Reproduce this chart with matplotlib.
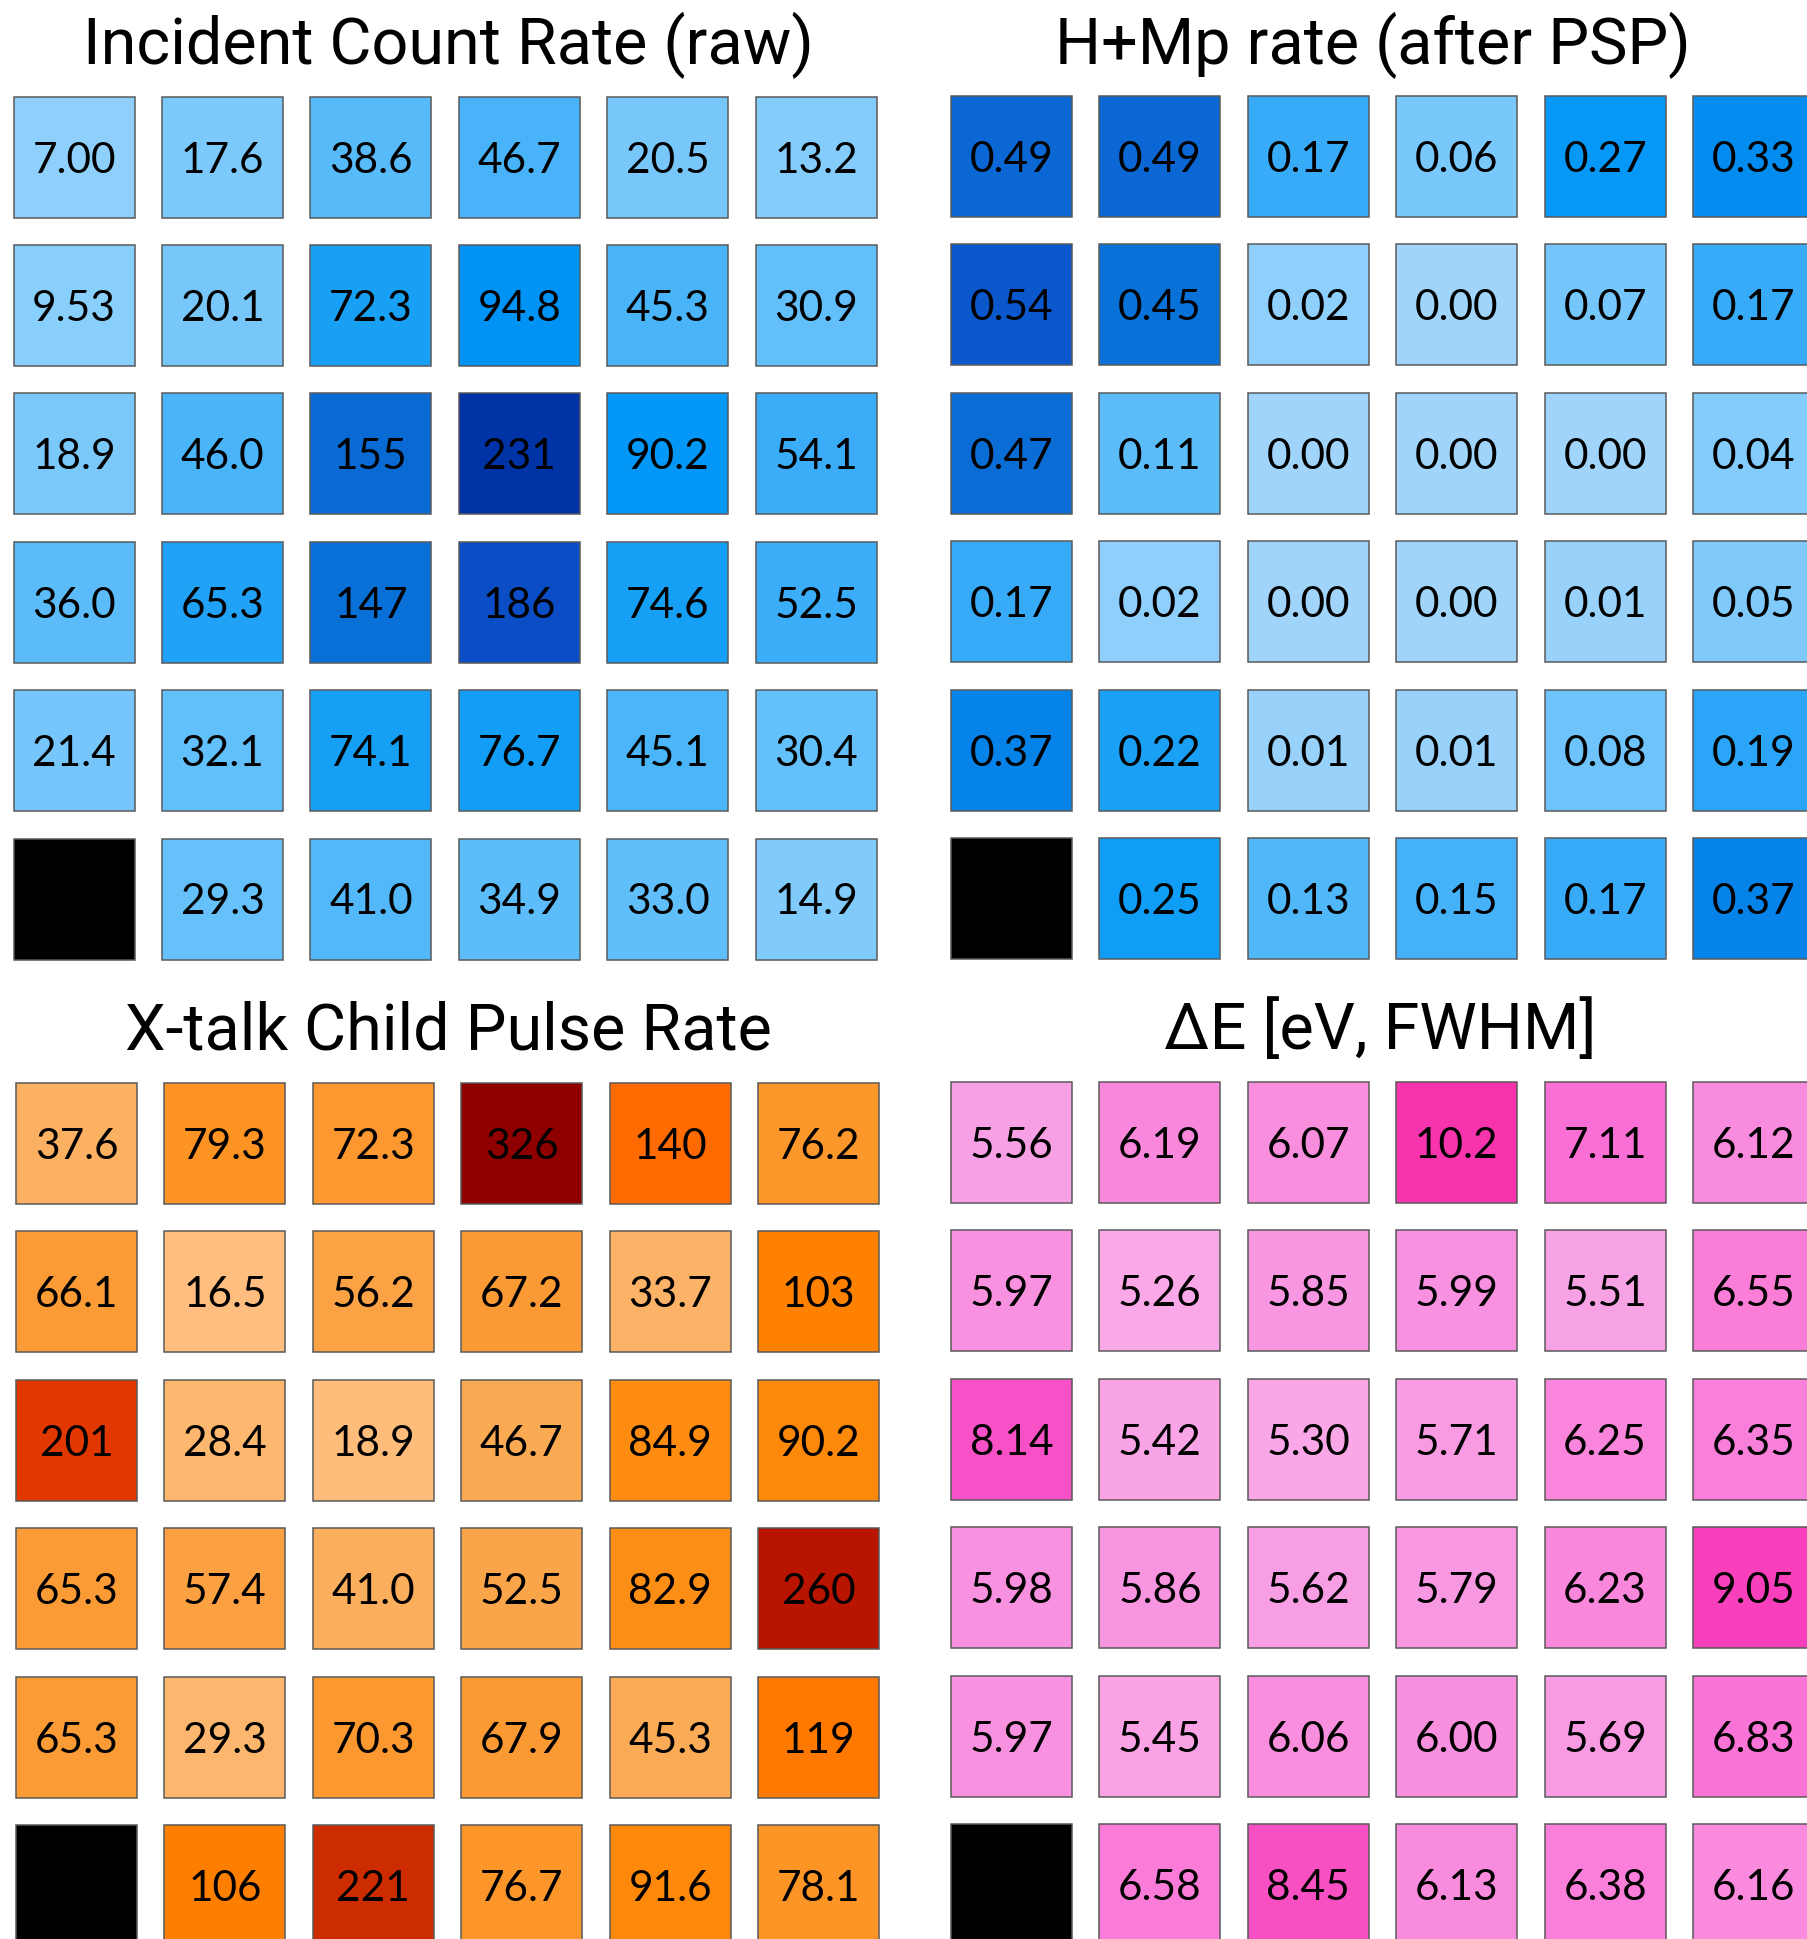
import numpy as np
import matplotlib
matplotlib.use("Agg")
import matplotlib.pyplot as plt
from matplotlib.colors import LinearSegmentedColormap, Normalize
from matplotlib.patches import Rectangle

nan = np.nan

# ---- pixel data (6 x 6 detector array), NaN = dead pixel ----
incident_rate = [
    [7.00, 17.6, 38.6, 46.7, 20.5, 13.2],
    [9.53, 20.1, 72.3, 94.8, 45.3, 30.9],
    [18.9, 46.0, 155, 231, 90.2, 54.1],
    [36.0, 65.3, 147, 186, 74.6, 52.5],
    [21.4, 32.1, 74.1, 76.7, 45.1, 30.4],
    [nan, 29.3, 41.0, 34.9, 33.0, 14.9],
]
hmp_rate = [
    [0.49, 0.49, 0.17, 0.06, 0.27, 0.33],
    [0.54, 0.45, 0.02, 0.00, 0.07, 0.17],
    [0.47, 0.11, 0.00, 0.00, 0.00, 0.04],
    [0.17, 0.02, 0.00, 0.00, 0.01, 0.05],
    [0.37, 0.22, 0.01, 0.01, 0.08, 0.19],
    [nan, 0.25, 0.13, 0.15, 0.17, 0.37],
]
xtalk_rate = [
    [37.6, 79.3, 72.3, 326, 140, 76.2],
    [66.1, 16.5, 56.2, 67.2, 33.7, 103],
    [201, 28.4, 18.9, 46.7, 84.9, 90.2],
    [65.3, 57.4, 41.0, 52.5, 82.9, 260],
    [65.3, 29.3, 70.3, 67.9, 45.3, 119],
    [nan, 106, 221, 76.7, 91.6, 78.1],
]
delta_e = [
    [5.56, 6.19, 6.07, 10.2, 7.11, 6.12],
    [5.97, 5.26, 5.85, 5.99, 5.51, 6.55],
    [8.14, 5.42, 5.30, 5.71, 6.25, 6.35],
    [5.98, 5.86, 5.62, 5.79, 6.23, 9.05],
    [5.97, 5.45, 6.06, 6.00, 5.69, 6.83],
    [nan, 6.58, 8.45, 6.13, 6.38, 6.16],
]

titles = ["Incident Count Rate (raw)", "H+Mp rate (after PSP)",
          "X-talk Child Pulse Rate", "\u0394E [eV, FWHM]"]

# ---- colour maps ----
blues = LinearSegmentedColormap.from_list("blues_px", [
    (0.00, "#A0D4FA"), (0.03, "#8CD0FB"), (0.08, "#7AC8FB"), (0.13, "#64C0FA"),
    (0.17, "#55B9F9"), (0.20, "#48B3F9"), (0.23, "#3BACF8"), (0.28, "#22A2F6"),
    (0.32, "#16A0F5"), (0.40, "#0095F8"), (0.65, "#0A6ED6"), (0.80, "#0A4EC6"),
    (1.00, "#0033A5")])
oranges = LinearSegmentedColormap.from_list("oranges_px", [
    (0.00, "#FFC48A"), (0.05, "#FFBE7E"), (0.09, "#FDB66D"), (0.126, "#FBAE5C"),
    (0.161, "#FBA54A"), (0.20, "#FB9B35"), (0.235, "#FC962A"), (0.26, "#FD8C10"),
    (0.30, "#FE8400"), (0.365, "#FF7800"), (0.43, "#FF6A00"), (0.617, "#E03800"),
    (0.678, "#CC2C00"), (0.80, "#B81400"), (1.00, "#8E0000")])
pinks = LinearSegmentedColormap.from_list("pinks_px", [
    (0.00, "#FAA8E8"), (0.06, "#F8A0E5"), (0.10, "#F899E2"), (0.14, "#F892E0"),
    (0.17, "#F98CDE"), (0.20, "#F986DC"), (0.22, "#F980DA"), (0.27, "#FA7CD8"),
    (0.32, "#F974D6"), (0.38, "#FA6ED6"), (0.58, "#F850C6"), (0.65, "#F84FC3"),
    (0.77, "#F840BC"), (1.00, "#F833AE")])


def fmt3(v):
    if v >= 100:
        return f"{v:.0f}"
    if v >= 10:
        return f"{v:.1f}"
    return f"{v:.2f}"


def fmt2(v):
    return f"{v:.2f}"


W, H = 1808, 1939
fig = plt.figure(figsize=(W / 100, H / 100), dpi=100)
fig.patch.set_facecolor("white")

PITCH = 148.4      # px between cell origins
CELL = 121.0 / PITCH

panels = [
    # data, cmap, norm, formatter, grid left px, grid top px, title center x, title baseline y
    (incident_rate, blues, Normalize(0, 231), fmt3, 13.6, 96.5, 448, 64),
    (hmp_rate, blues, Normalize(0, 0.72), fmt2, 951, 96.0, 1373, 64),
    (xtalk_rate, oranges, Normalize(0, 326), fmt3, 16.0, 1083, 448, 1050),
    (delta_e, pinks, Normalize(5.26, 10.2), fmt3, 951, 1082, 1380, 1049),
]

for (data, cmap, norm, fmt, left, top, tx, ty), title in zip(panels, titles):
    arr = np.array(data, dtype=float)
    nr, nc = arr.shape
    ax = fig.add_axes([left / W, 1 - (top + nr * PITCH) / H,
                       nc * PITCH / W, nr * PITCH / H])
    ax.set_xlim(0, nc)
    ax.set_ylim(nr, 0)
    ax.axis("off")
    for r in range(nr):
        for c in range(nc):
            v = arr[r, c]
            face = "black" if np.isnan(v) else cmap(norm(v))
            ax.add_patch(Rectangle((c, r), CELL, CELL, facecolor=face,
                                   edgecolor="#5a5a5a", linewidth=1.1,
                                   clip_on=False))
            if not np.isnan(v):
                ax.text(c + CELL / 2, r + CELL / 2, fmt(v), ha="center",
                        va="center_baseline", fontsize=30.5, family="Lato",
                        color="black")
    fig.text(tx / W, 1 - ty / H, title, ha="center", va="baseline",
             fontsize=46.5, family="Roboto", color="black")

fig.savefig("out.png", dpi=100, facecolor="white")
